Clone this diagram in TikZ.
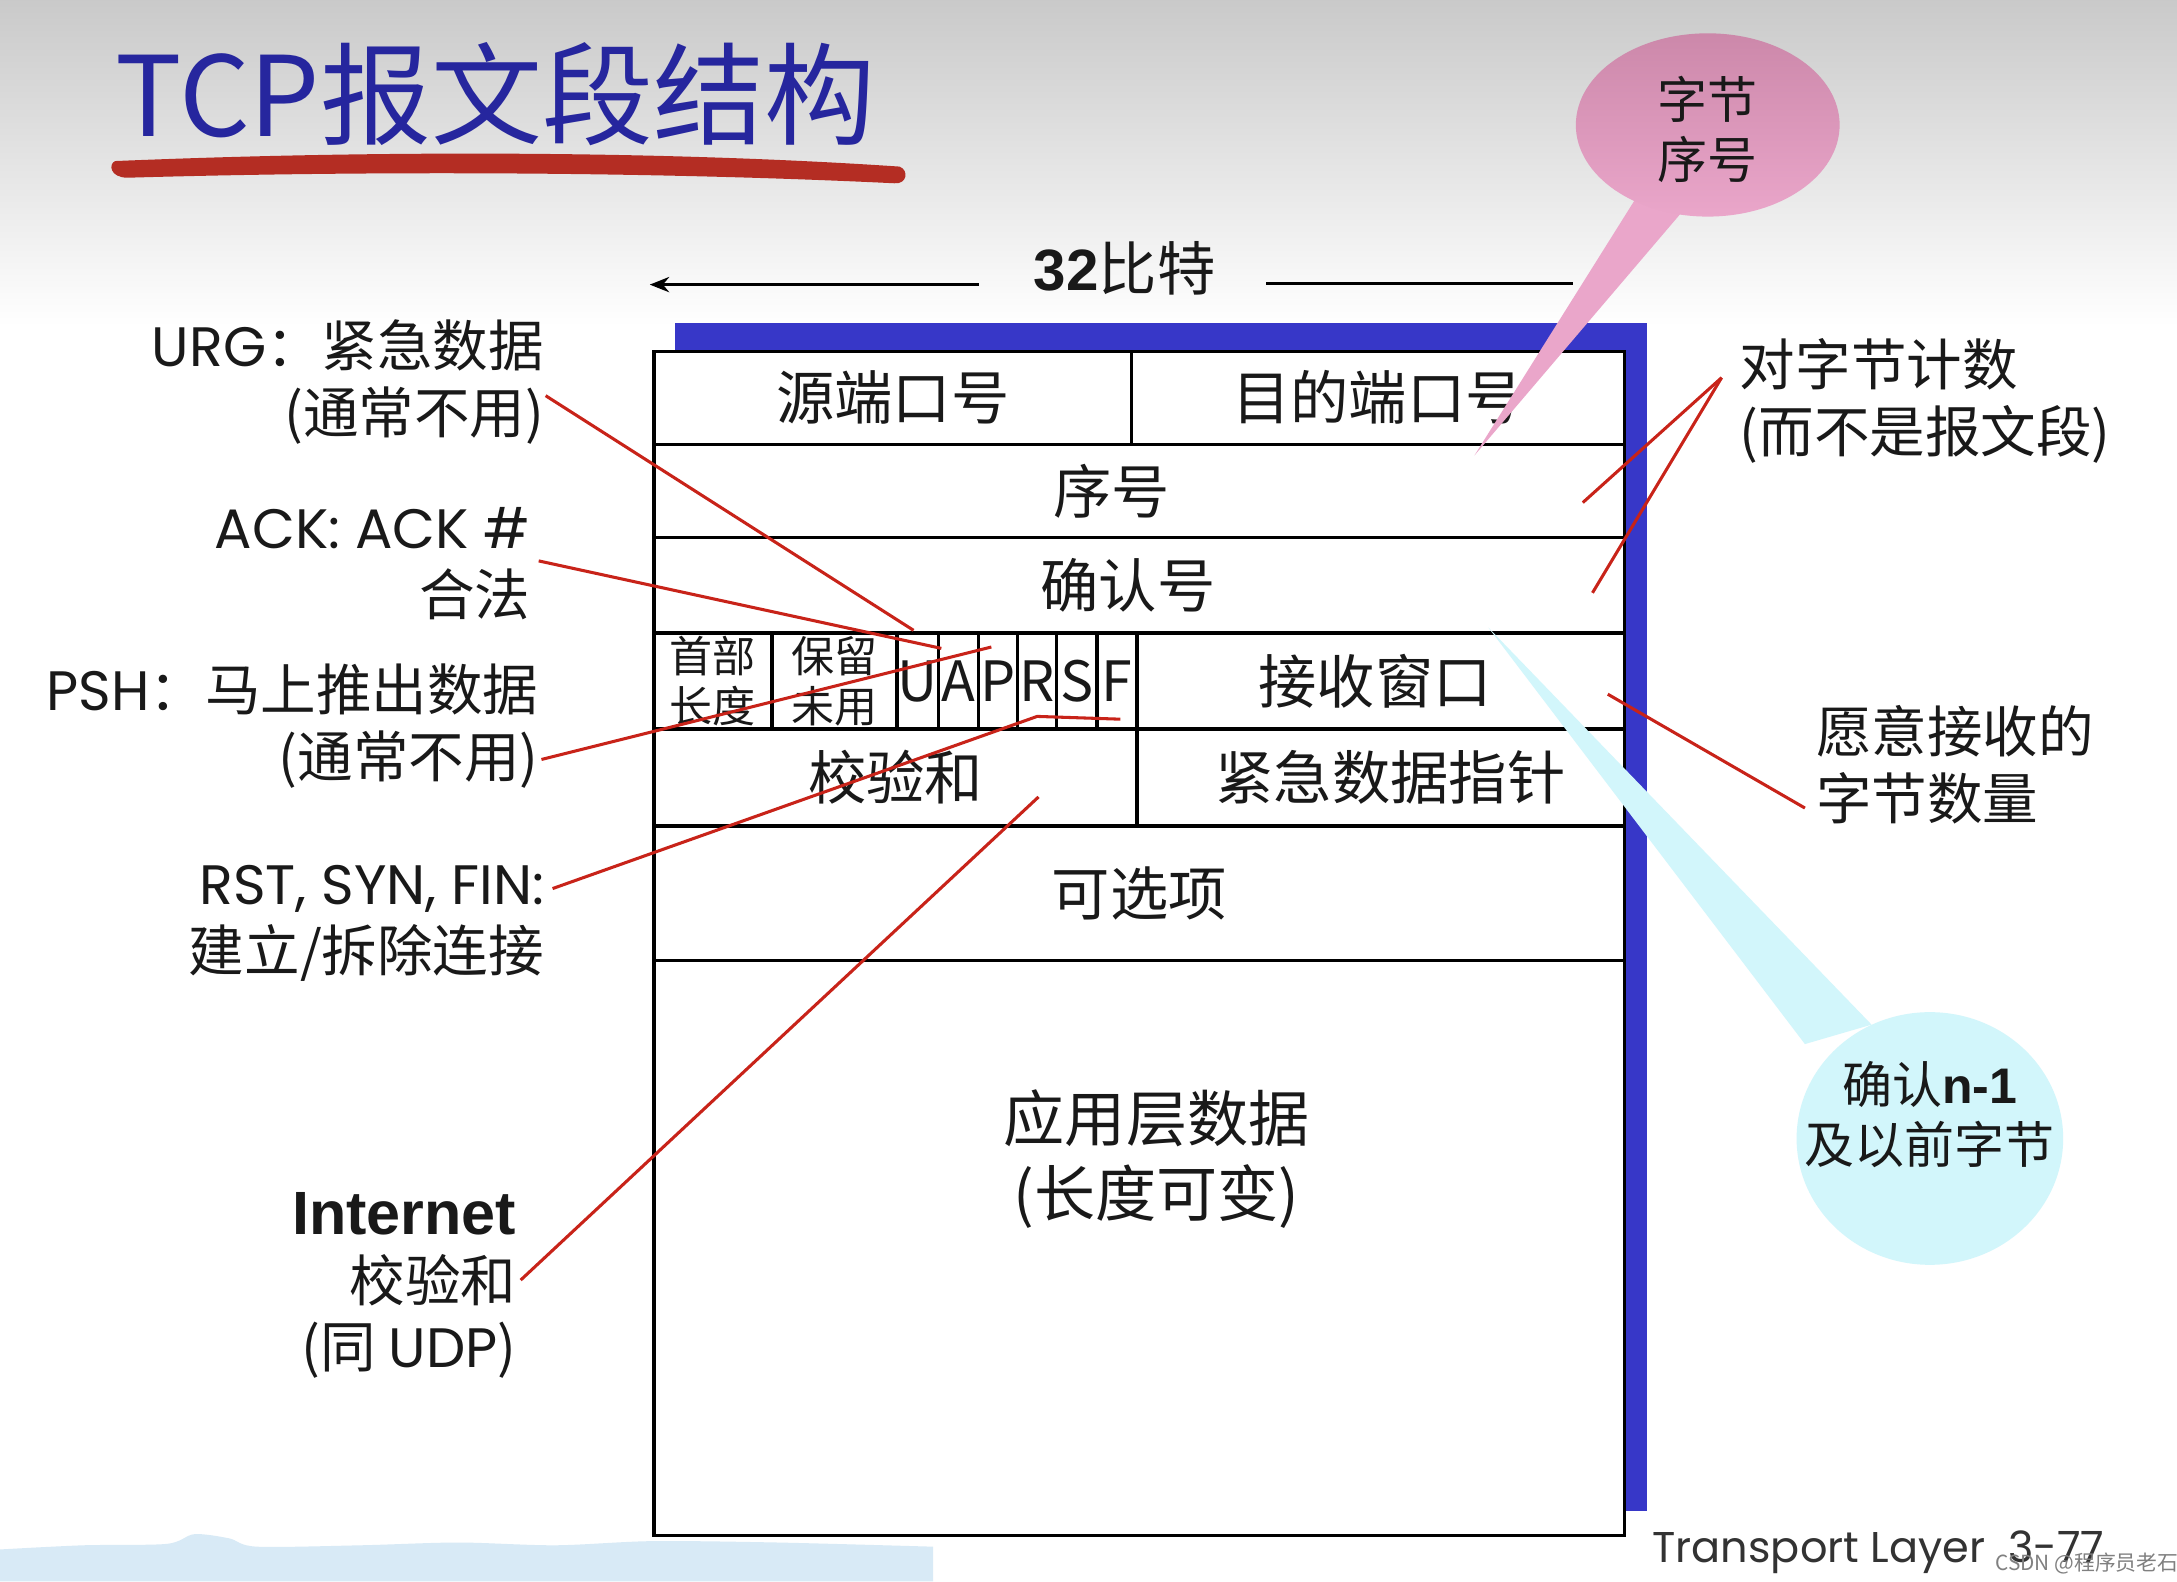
\documentclass[tikz,border=0pt]{standalone}
\usepackage{fontspec}
\newfontfamily\cjk{Noto Sans CJK SC}
\newfontfamily\geo{Poppins}
\newfontfamily\arl{Liberation Sans}
\usetikzlibrary{arrows.meta,shapes.geometric}
\definecolor{titleblue}{RGB}{38,38,158}
\definecolor{brush}{RGB}{180,45,35}
\definecolor{shadowblue}{RGB}{55,55,200}
\definecolor{leader}{RGB}{200,35,25}
\definecolor{pinktop}{RGB}{204,136,170}
\definecolor{pinkbot}{RGB}{234,166,202}
\definecolor{cyanfill}{RGB}{210,246,251}
\definecolor{stripblue}{RGB}{216,234,246}
\definecolor{txt}{RGB}{25,25,25}
\begin{document}
\begin{tikzpicture}[x=1pt,y=-1pt,
  field/.style={draw=black, line width=2.4pt, fill=white, inner sep=0pt, text=txt,
                font=\cjk\fontsize{42}{50}\selectfont, align=center},
  smallfield/.style={field, font=\cjk\fontsize{31}{36}\selectfont},
  flagfield/.style={field, font=\cjk\fontsize{40}{40}\selectfont},
  lbl/.style={font=\cjk\fontsize{40}{48}\selectfont, inner sep=0pt, align=right, anchor=east, text=txt},
  rlbl/.style={font=\cjk\fontsize{40}{48}\selectfont, inner sep=0pt, align=left, anchor=west, text=txt},
  leadline/.style={draw=leader, line width=2.2pt},
  bubbletext/.style={font=\cjk\fontsize{36}{43}\selectfont, inner sep=0pt, align=center, text=txt},
]
\useasboundingbox (0,0) rectangle (1568,1139);
\fill[white] (0,0) rectangle (1568,1139);
\shade[top color=gray!42, bottom color=white] (0,0) rectangle (1568,235);
% bottom decorative strip
\fill[stripblue] plot[smooth] coordinates {(0,1116) (60,1113) (120,1112) (140,1105) (165,1108) (185,1114) (260,1113) (330,1111) (400,1113) (470,1110) (560,1111) (672,1114)} -- (672,1139) -- (0,1139) -- cycle;

% title
\node[anchor=west, font=\cjk\fontsize{80}{90}\selectfont, text=titleblue, inner sep=0pt] (title) at (83,68) {TCP报文段结构};
\fill[brush] (83,116) .. controls (300,107) and (500,110) .. (648,120)
  .. controls (655,123) and (653,133) .. (644,132)
  .. controls (500,125) and (300,122) .. (92,128)
  .. controls (79,128) and (78,118) .. cycle;

% 32 bits
\node[font=\cjk\fontsize{42}{44}\selectfont, inner sep=0pt, text=txt] (bits) at (810,193) {{\arl\bfseries 32}比特};
\coordinate (bitsL) at (705,205);
\coordinate (bitsLend) at (468,205);
\coordinate (bitsR) at (912,204);
\coordinate (bitsRend) at (1133,204);
\draw[line width=2pt, -{Stealth[length=14pt,width=11pt]}] (bitsL) -- (bitsLend);
\draw[line width=2pt] (bitsR) -- (bitsRend);

% shadow
\fill[shadowblue] (486,233) rectangle (1186,1088);

% fields
\node[field, minimum width=344pt, minimum height=67pt] (src) at (643,286.5) {源端口号};
\node[field, minimum width=355pt, minimum height=67pt] (dst) at (992.5,286.5) {目的端口号};
\node[field, minimum width=699pt, minimum height=67pt] (seq) at (820.5,353.5) {序号\hspace{40pt}};
\node[field, minimum width=699pt, minimum height=69pt] (ack) at (820.5,421.5) {确认号\hspace{16pt}};
\node[smallfield, minimum width=85pt, minimum height=69pt] (hlen) at (513.5,490.5) {首部\\长度};
\node[smallfield, minimum width=90pt, minimum height=69pt] (rsv) at (601,490.5) {保留\\未用};
\node[flagfield, minimum width=30pt, minimum height=69pt] (fU) at (661,490.5) {U};
\node[flagfield, minimum width=29pt, minimum height=69pt] (fA) at (690.5,490.5) {A};
\node[flagfield, minimum width=28pt, minimum height=69pt] (fP) at (719,490.5) {P};
\node[flagfield, minimum width=28pt, minimum height=69pt] (fR) at (747,490.5) {R};
\node[flagfield, minimum width=29pt, minimum height=69pt] (fS) at (775.5,490.5) {S};
\node[flagfield, minimum width=29pt, minimum height=69pt] (fF) at (804.5,490.5) {F};
\node[field, minimum width=351pt, minimum height=69pt] (win) at (994.5,490.5) {接收窗口\hspace{8pt}};
\node[field, minimum width=348pt, minimum height=70pt] (cks) at (645,560) {校验和};
\node[field, minimum width=351pt, minimum height=70pt] (urgp) at (994.5,560) {\hspace{14pt}紧急数据指针};
\node[field, minimum width=699pt, minimum height=97pt] (opt) at (820.5,643.5) {可选项};
\node[field, minimum width=699pt, minimum height=414pt] (data) at (820.5,899) {};
\node[font=\cjk\fontsize{44}{54}\selectfont, inner sep=0pt, align=center, text=txt] (dataT) at (833,835) {应用层数据\\(长度可变)};

% left labels
\node[lbl] (urgL) at (392,275) {{\geo URG}：紧急数据\\(通常不用)};
\node[lbl] (ackL) at (382,406) {{\geo ACK: ACK \#}\\合法};
\node[lbl] (pshL) at (388,523) {{\geo PSH}：马上推出数据\\(通常不用)};
\node[lbl] (rstL) at (392,665) {{\geo RST, SYN, FIN:}\\建立/拆除连接};
\node[lbl] (inetL) at (372,926) {{\arl\bfseries\fontsize{44}{48}\selectfont Internet}\\校验和\\(同 {\geo UDP})};
% right labels
\node[rlbl] (cntL) at (1253,289) {对字节计数\\(而不是报文段)};
\node[rlbl] (wndL) at (1308,551) {愿意接收的\\字节数量};

% leader lines
\coordinate (urgS) at (393,285);  \coordinate (urgE) at (658,454);
\coordinate (ackS) at (388,404);  \coordinate (ackE) at (678,467);
\coordinate (pshS) at (390,547);  \coordinate (pshE) at (714,466);
\coordinate (rstS) at (398,640);  \coordinate (rstM) at (747,516); \coordinate (rstE) at (807,518);
\coordinate (inetS) at (375,922); \coordinate (inetE) at (748,574);
\coordinate (cntS) at (1240,272); \coordinate (cntE1) at (1140,362); \coordinate (cntE2) at (1147,427);
\coordinate (wndS) at (1300,582); \coordinate (wndE) at (1158,500);
\draw[leadline] (urgS) -- (urgE);
\draw[leadline] (ackS) -- (ackE);
\draw[leadline] (pshS) -- (pshE);
\draw[leadline] (rstS) -- (rstM) -- (rstE);
\draw[leadline] (inetS) -- (inetE);
\draw[leadline] (cntS) -- (cntE1);
\draw[leadline] (cntS) -- (cntE2);
\draw[leadline] (wndS) -- (wndE);

% pink callout
\coordinate (pinkTip) at (1062,328);
\fill[pinkbot] (1180,140) -- (pinkTip) -- (1218,145) -- cycle;
\node[ellipse, top color=pinktop, bottom color=pinkbot, minimum width=190pt, minimum height=132pt, inner sep=0pt] (pink) at (1230,90) {};
\node[bubbletext] (pinkT) at (1230,93) {字节\\序号};

% cyan callout
\coordinate (cyanTip) at (1072,452);
\fill[cyanfill] (cyanTip) -- (1300,752) -- (1348,738) -- cycle;
\node[ellipse, fill=cyanfill, minimum width=192pt, minimum height=182pt, inner sep=0pt] (cyan) at (1390,820) {};
\node[bubbletext] (cyanT) at (1390,803) {确认{\arl\bfseries n-1}\\及以前字节};

% footer
\node[font=\geo\fontsize{31}{34}\selectfont, text=black!80, inner sep=0pt, anchor=west] (footer) at (1190,1118) {Transport Layer \ 3-77};
\node[font=\cjk\fontsize{15}{18}\selectfont, text=gray, inner sep=0pt, anchor=west] (wm) at (1437,1126) {CSDN @程序员老石};
\end{tikzpicture}
\end{document}
